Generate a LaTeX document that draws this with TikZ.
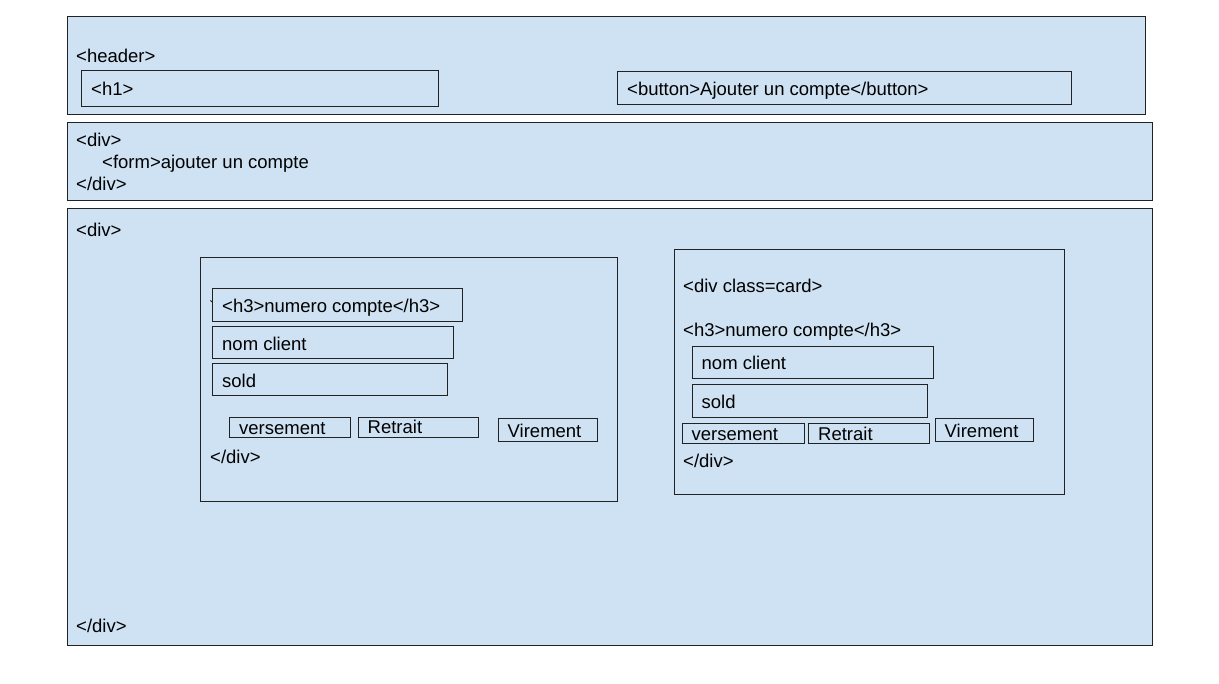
\documentclass[tikz,border=0pt]{standalone}
\usepackage{fontspec}
\setmainfont{Liberation Sans}
\definecolor{bleu}{HTML}{CFE2F3}
\definecolor{trait}{HTML}{222222}
\tikzset{
    boite/.style={draw=trait, fill=bleu, line width=1pt, anchor=north west,
    	inner sep=0pt}
}
\tikzset{
    txt/.style={anchor=west, inner sep=0pt, text height=17pt, text depth=2pt,
    	font=\fontsize{18.5}{22}\selectfont}
}

\begin{document}
\begin{tikzpicture}[x=1pt, y=-1pt]
	\fill[white] (0,0) rectangle (1219,684);
	\useasboundingbox (0,0) rectangle (1219,684);
	\node[boite, minimum width=1078pt, minimum height=98pt] (header) at (67,16) {};
	\node[boite, minimum width=357pt, minimum height=36pt] (h1) at (81,70) {};
	\node[boite, minimum width=454pt, minimum height=33pt] (bouton) at (617,71) {};
	\node[boite, minimum width=1085pt, minimum height=78pt] (form) at (67,122) {};
	\node[boite, minimum width=1085pt, minimum height=437pt] (main) at (67,208) {};
	\node[txt] (t-header) at (76,55) {<header>};
	\node[txt] (t-h1) at ([xshift=10pt]h1.west) {<h1>};
	\node[txt] (t-bouton) at ([xshift=10pt]bouton.west) {<button>Ajouter un compte</button>};
	\node[txt] (t-div1) at (76,139) {<div>};
	\node[txt] (t-form) at (102,161) {<form>ajouter un compte};
	\node[txt] (t-fdiv1) at (76,183) {</div>};
	\node[txt] (t-div2) at (76,229) {<div>};
	\node[txt] (t-fdiv2) at (76,625) {</div>};
	% carte de gauche
	\node[boite, minimum width=417pt, minimum height=244pt] (carte1) at (200,257) {};
	\draw[trait, line width=1pt] (210.5,300.5) -- (212,302);
	\node[boite, minimum width=249.5pt, minimum height=33pt] (h3a) at (212,288) {};
	\node[boite, minimum width=240.5pt, minimum height=32.5pt] (noma) at (212,326) {};
	\node[boite, minimum width=234.5pt, minimum height=32.5pt] (solda) at (212,363) {};
	\node[boite, minimum width=121pt, minimum height=20pt] (versa) at (229,417) {};
	\node[boite, minimum width=120pt, minimum height=20pt] (retra) at (358,417) {};
	\node[boite, minimum width=98.5pt, minimum height=23.5pt] (vira) at (498,418) {};
	\node[txt] (t-h3a) at ([xshift=10pt]h3a.west) {<h3>numero compte</h3>};
	\node[txt] (t-noma) at ([xshift=10pt]noma.west) {nom client};
	\node[txt] (t-solda) at ([xshift=10pt]solda.west) {sold};
	\node[txt] (t-versa) at ([xshift=10pt]versa.west) {versement};
	\node[txt] (t-retra) at ([xshift=9.5pt,yshift=1pt]retra.west) {Retrait};
	\node[txt] (t-vira) at ([xshift=9.5pt]vira.west) {Virement};
	\node[txt] (t-fdiva) at (210,456) {</div>};
	% carte de droite
	\node[boite, minimum width=389.5pt, minimum height=245pt] (carte2) at (674,249) {};
	\node[txt] (t-divb) at (683,285) {<div class=card>};
	\node[txt] (t-h3b) at (683,329) {<h3>numero compte</h3>};
	\node[boite, minimum width=240.5pt, minimum height=32pt] (nomb) at (692,346) {};
	\node[boite, minimum width=234.5pt, minimum height=33pt] (soldb) at (692,384) {};
	\node[boite, minimum width=121.5pt, minimum height=20pt] (versb) at (682,423) {};
	\node[boite, minimum width=121pt, minimum height=20pt] (retrb) at (808,423) {};
	\node[boite, minimum width=98pt, minimum height=23.5pt] (virb) at (935,418) {};
	\node[txt] (t-nomb) at ([xshift=9.5pt]nomb.west) {nom client};
	\node[txt] (t-soldb) at ([xshift=9.5pt]soldb.west) {sold};
	\node[txt] (t-versb) at ([xshift=9.5pt]versb.west) {versement};
	\node[txt] (t-retrb) at ([xshift=10pt]retrb.west) {Retrait};
	\node[txt] (t-virb) at ([xshift=9.5pt]virb.west) {Virement};
	\node[txt] (t-fdivb) at (683,460) {</div>};
\end{tikzpicture}
\end{document}
